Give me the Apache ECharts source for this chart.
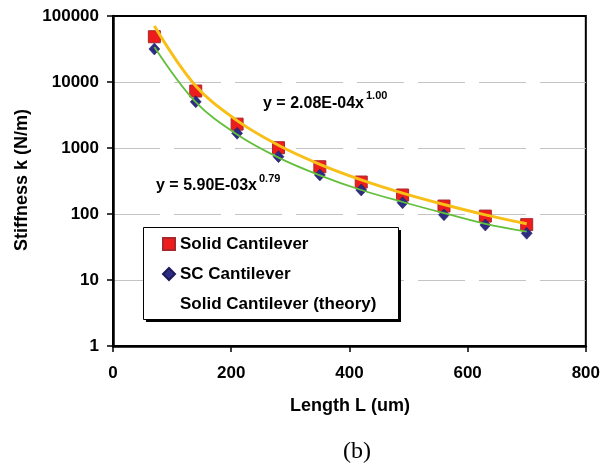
<!DOCTYPE html>
<html>
<head>
<meta charset="utf-8">
<script src="https://cdn.jsdelivr.net/npm/echarts@6/dist/echarts.min.js"></script>
<style>
html,body{margin:0;padding:0;background:#fff;}
#c{width:603px;height:472px;}
</style>
</head>
<body>
<div id="c"></div>
<script>
// ---- data ----
var lengths = [70, 140, 210, 280, 350, 420, 490, 560, 630, 700];
var solidK = [48500, 7300, 2300, 1010, 520, 305, 194, 132, 93, 69];
var scK = [31600, 5000, 1670, 740, 390, 231, 148, 97, 68, 51];
var theoryK = [70500, 8700, 2600, 1100, 565, 328, 207, 139, 97, 71];
var scFitK = [34000, 4950, 1600, 715, 385, 231, 152, 103, 71, 54];
var xTicks = [0, 200, 400, 600, 800];
var yTicks = [1, 10, 100, 1000, 10000, 100000];
var seriesNames = ['Solid Cantilever', 'SC Cantilever', 'Solid Cantilever (theory)'];
var eq1 = ['y = 2.08E-04x', '1.00'];
var eq2 = ['y = 5.90E-03x', '0.79'];
var xTitle = 'Length L (um)';
var yTitle = 'Stiffness k (N/m)';
var caption = '(b)';

function pairs(xs, ys) { return xs.map(function (x, i) { return [x, ys[i]]; }); }

var FONT = 'Liberation Sans, Arial, sans-serif';
var chart = echarts.init(document.getElementById('c'), null, { renderer: 'canvas' });

var option = {
  animation: false,
  backgroundColor: '#fff',
  grid: {
    left: 113, right: 15, top: 16, bottom: 126,
    show: true, borderColor: '#000', borderWidth: 2, backgroundColor: 'transparent'
  },
  xAxis: {
    type: 'value',
    min: xTicks[0], max: xTicks[xTicks.length - 1], interval: xTicks[1] - xTicks[0],
    axisLine: { show: true, onZero: false, lineStyle: { color: '#000', width: 2.5 } },
    axisTick: { show: true, inside: false, length: 6, lineStyle: { color: '#000', width: 1.5 } },
    axisLabel: { color: '#000', fontFamily: FONT, fontWeight: 'bold', fontSize: 17, margin: 19 },
    splitLine: { show: false }
  },
  yAxis: {
    type: 'log', logBase: 10,
    min: yTicks[0], max: yTicks[yTicks.length - 1],
    axisLine: { show: true, onZero: false, lineStyle: { color: '#000', width: 2.5 } },
    axisTick: { show: true, inside: false, length: 6, lineStyle: { color: '#000', width: 1.5 } },
    axisLabel: {
      color: '#000', fontFamily: FONT, fontWeight: 'bold', fontSize: 17, margin: 14,
      formatter: function (v) { return String(Math.round(v)); }
    },
    splitLine: { show: true, showMinLine: false, showMaxLine: false,
      lineStyle: { color: '#C4C4C4', width: 1, type: [47, 14] } },
    minorTick: { show: false }
  },
  legend: {
    orient: 'vertical',
    left: 143, top: 227,
    padding: [7, 22, 6, 19],
    itemGap: 10,
    itemWidth: 12, itemHeight: 12,
    backgroundColor: 'transparent',
    borderWidth: 0,
    z: 20,
    textStyle: { color: '#000', fontFamily: FONT, fontWeight: 'bold', fontSize: 17, lineHeight: 20 },
    selectedMode: false,
    data: [
      { name: seriesNames[0] },
      { name: seriesNames[1] },
      { name: seriesNames[2], icon: 'rect', itemStyle: { opacity: 0 }, lineStyle: { opacity: 0 } }
    ]
  },
  series: [
    {
      name: seriesNames[0], type: 'scatter', data: pairs(lengths, solidK),
      symbol: 'rect', symbolSize: 12, z: 2,
      itemStyle: { color: '#EE1D1D', borderColor: '#A8282C', borderWidth: 1, opacity: 1 }
    },
    {
      name: seriesNames[1], type: 'scatter', data: pairs(lengths, scK),
      symbol: 'diamond', symbolSize: [11, 12], z: 2,
      itemStyle: { color: '#2C2C82', borderColor: '#1C1A5A', borderWidth: 0.5, opacity: 1 }
    },
    {
      name: seriesNames[2], type: 'line', data: pairs(lengths, theoryK),
      symbol: 'none', showSymbol: false, smooth: 0.35, z: 4,
      lineStyle: { color: '#F8BF16', width: 3 }
    },
    {
      name: 'SC fit', type: 'line', data: pairs(lengths, scFitK),
      symbol: 'none', showSymbol: false, smooth: 0.35, z: 3,
      lineStyle: { color: '#62BF3A', width: 1.8 }
    }
  ],
  graphic: [
    // legend frame with drop shadow
    { type: 'rect', left: 146, top: 230, z: 8,
      shape: { width: 255, height: 92 }, style: { fill: '#000' } },
    { type: 'rect', left: 143, top: 227, z: 9,
      shape: { width: 255, height: 92 }, style: { fill: '#fff', stroke: '#000', lineWidth: 1 } },
    { type: 'text', left: 263, top: 96, z: 10,
      style: { text: eq1[0], fill: '#000', font: 'bold 16px ' + FONT } },
    { type: 'text', left: 366, top: 90, z: 10,
      style: { text: eq1[1], fill: '#000', font: 'bold 11px ' + FONT } },
    { type: 'text', left: 156, top: 178, z: 10,
      style: { text: eq2[0], fill: '#000', font: 'bold 16px ' + FONT } },
    { type: 'text', left: 259, top: 173, z: 10,
      style: { text: eq2[1], fill: '#000', font: 'bold 11px ' + FONT } },
    { type: 'text', x: 350, y: 406, z: 10,
      style: { text: xTitle, fill: '#000', font: 'bold 18px ' + FONT, textAlign: 'center', textVerticalAlign: 'middle' } },
    { type: 'text', x: 22, y: 180, rotation: Math.PI / 2, z: 10,
      style: { text: yTitle, fill: '#000', font: 'bold 18px ' + FONT, textAlign: 'center', textVerticalAlign: 'middle' } },
    { type: 'text', x: 357, y: 452, z: 10,
      style: { text: caption, fill: '#000', font: '24px Liberation Serif, Times New Roman, serif', textAlign: 'center', textVerticalAlign: 'middle' } }
  ]
};
chart.setOption(option);
</script>
</body>
</html>
